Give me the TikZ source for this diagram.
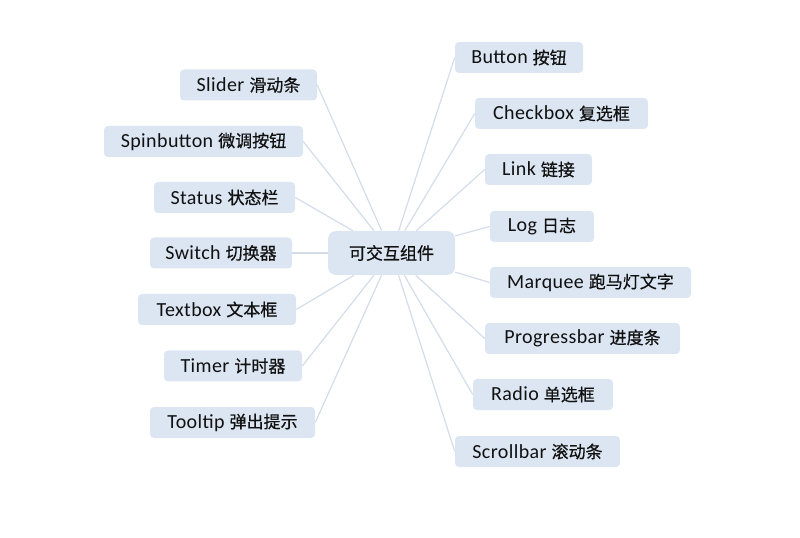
\documentclass[tikz,border=0pt]{standalone}
\usepackage{fontspec}
\setmainfont{Carlito}[LetterSpace=2]
\newfontfamily\cjk[Scale=0.85,FakeBold=0.6]{Noto Sans CJK SC}
\definecolor{boxfill}{HTML}{DCE6F2}
\definecolor{linkcol}{HTML}{D3DDEA}
\definecolor{txt}{HTML}{111111}
\begin{document}
\begin{tikzpicture}[x=0.75pt,y=-0.75pt,
  item/.style={fill=boxfill,rounded corners=3pt,minimum height=23.25pt,inner sep=0pt,
    text=txt,font=\fontsize{15}{18}\selectfont,anchor=center},
  hub/.style={fill=boxfill,rounded corners=6pt,minimum height=33pt,minimum width=95.25pt,inner sep=0pt,
    text=txt,font=\fontsize{15}{18}\selectfont},
  link/.style={draw=linkcol,line width=0.9pt}]
\useasboundingbox (0,0) rectangle (800,538);
\node[hub] (c) at (391.5,253) {{\cjk 可交互组件}};
% left
\node[item,minimum width=102.75pt] (slider) at (248.5,85) {Slider {\cjk 滑动条}};
\node[item,minimum width=149.25pt] (spin) at (203.5,141.5) {Spinbutton {\cjk 微调按钮}};
\node[item,minimum width=105.75pt] (status) at (224.5,197.5) {Status {\cjk 状态栏}};
\node[item,minimum width=106.5pt] (switch) at (221,253) {Switch {\cjk 切换器}};
\node[item,minimum width=118.5pt] (textbox) at (217,309.5) {Textbox {\cjk 文本框}};
\node[item,minimum width=103.5pt] (timer) at (233,366) {Timer {\cjk 计时器}};
\node[item,minimum width=123.75pt] (tooltip) at (232.5,422.5) {Tooltip {\cjk 弹出提示}};
% right
\node[item,minimum width=96pt] (button) at (519,57.5) {Button {\cjk 按钮}};
\node[item,minimum width=129.75pt] (checkbox) at (561.5,113.5) {Checkbox {\cjk 复选框}};
\node[item,minimum width=80.25pt] (linkn) at (538.5,169.5) {Link {\cjk 链接}};
\node[item,minimum width=78pt] (log) at (542,226.5) {Log {\cjk 日志}};
\node[item,minimum width=150.75pt] (marquee) at (590.5,282.5) {Marquee {\cjk 跑马灯文字}};
\node[item,minimum width=146.25pt] (progress) at (582.5,338.5) {Progressbar {\cjk 进度条}};
\node[item,minimum width=105pt] (radio) at (543,394.5) {Radio {\cjk 单选框}};
\node[item,minimum width=123.75pt] (scroll) at (537.5,451.5) {Scrollbar {\cjk 滚动条}};
% connectors
\foreach \n in {slider,spin,status,switch,textbox,timer,tooltip}
  \draw[link] (\n.east) -- (c);
\foreach \n in {button,checkbox,linkn,log,marquee,progress,radio,scroll}
  \draw[link] (\n.west) -- (c);
\end{tikzpicture}
\end{document}
